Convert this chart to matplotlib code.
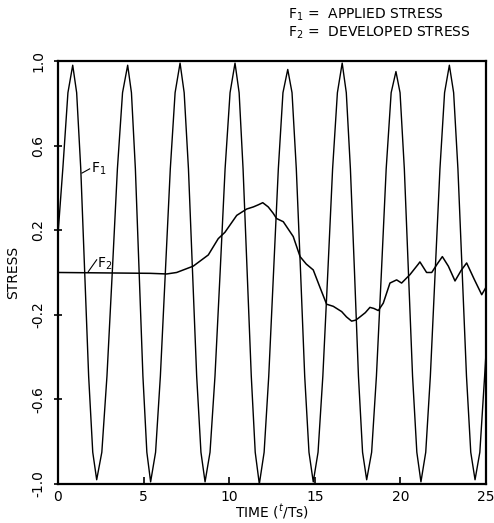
import numpy as np
import matplotlib.pyplot as plt

# ==== 1. 数据 ====
# F1: applied stress, points read along the oscillation
f1_t = [0.00, 0.29, 0.58, 0.86,
        1.09, 1.33, 1.56, 1.79, 2.03, 2.26,
        2.56, 2.86, 3.17, 3.47, 3.77, 4.07,
        4.29, 4.52, 4.74, 4.96, 5.19, 5.41,
        5.70, 5.98, 6.27, 6.56, 6.84, 7.13,
        7.37, 7.62, 7.86, 8.10, 8.35, 8.59,
        8.88, 9.17, 9.47, 9.76, 10.05, 10.34,
        10.58, 10.81, 11.05, 11.29, 11.52, 11.76,
        12.04, 12.31, 12.59, 12.87, 13.14, 13.42,
        13.67, 13.92, 14.17, 14.41, 14.66, 14.91,
        15.19, 15.47, 15.76, 16.04, 16.32, 16.60,
        16.84, 17.08, 17.32, 17.55, 17.79, 18.03,
        18.32, 18.60, 18.89, 19.17, 19.46, 19.74,
        19.98, 20.23, 20.47, 20.71, 20.96, 21.20,
        21.48, 21.75, 22.03, 22.31, 22.58, 22.86,
        23.11, 23.36, 23.61, 23.86, 24.11, 24.36,
        24.64, 24.92, 25.00]
f1_val = [0.18, 0.50, 0.85, 0.98,
          0.85, 0.49, 0.00, -0.49, -0.85, -0.98,
          -0.85, -0.49, 0.00, 0.49, 0.85, 0.98,
          0.85, 0.49, 0.00, -0.49, -0.85, -0.99,
          -0.85, -0.49, 0.00, 0.49, 0.85, 0.99,
          0.85, 0.49, 0.00, -0.49, -0.85, -0.99,
          -0.85, -0.49, 0.00, 0.49, 0.85, 0.99,
          0.85, 0.49, 0.00, -0.49, -0.85, -1.00,
          -0.85, -0.49, 0.00, 0.49, 0.85, 0.96,
          0.85, 0.49, 0.00, -0.49, -0.85, -0.99,
          -0.85, -0.49, 0.00, 0.49, 0.85, 0.99,
          0.85, 0.49, 0.00, -0.49, -0.85, -0.98,
          -0.85, -0.49, 0.00, 0.49, 0.85, 0.95,
          0.85, 0.49, 0.00, -0.49, -0.85, -0.99,
          -0.85, -0.49, 0.00, 0.49, 0.85, 0.98,
          0.85, 0.49, 0.00, -0.49, -0.85, -0.98,
          -0.85, -0.49, -0.38]

# F2: developed stress
f2_t = [0.0, 5.38, 6.35, 6.93, 7.90, 8.78, 9.36, 9.75, 10.44, 11.02,
        11.41, 11.70, 11.96, 12.28, 12.57, 12.77, 13.16, 13.74, 14.14, 14.50,
        14.91, 15.30, 15.69, 16.08, 16.57, 16.85, 17.15, 17.40, 17.64, 17.95,
        18.22, 18.45, 18.71, 19.00, 19.39, 19.78, 20.07, 20.56, 21.05, 21.14,
        21.53, 21.83, 22.15, 22.45, 22.80, 23.19, 23.55, 23.87, 24.30, 24.75,
        25.00]
f2_val = [0.0, -0.004, -0.007, 0.0, 0.03, 0.083, 0.16, 0.19, 0.27, 0.30,
          0.31, 0.32, 0.33, 0.31, 0.28, 0.255, 0.24, 0.17, 0.075, 0.04,
          0.012, -0.07, -0.15, -0.16, -0.185, -0.21, -0.23, -0.225, -0.21, -0.19,
          -0.165, -0.17, -0.18, -0.145, -0.05, -0.035, -0.05, -0.01, 0.04, 0.05,
          0.0, 0.0, 0.04, 0.075, 0.03, -0.04, 0.01, 0.045, -0.03, -0.105,
          -0.07]

x_ticks = [0, 5, 10, 15, 20, 25]
y_ticks = [1.0, 0.6, 0.2, -0.2, -0.6, -1.0]
y_tick_labels = ['1.0', '0.6', '0.2', '-0.2', '-0.6', '-1.0']

# ==== 2. 画图 ====
fig = plt.figure(figsize=(4.94, 5.23), dpi=100)
ax = fig.add_axes([0.1174, 0.0746, 0.8664, 0.8088])

ax.plot(f1_t, f1_val, color='black', lw=1.0)
ax.plot(f2_t, f2_val, color='black', lw=1.1)

ax.set_xlim(0, 25)
ax.set_ylim(-1.0, 1.0)

ax.set_xticks(x_ticks)
ax.set_yticks(y_ticks)
ax.set_yticklabels(y_tick_labels, rotation=90, va='center')
ax.tick_params(axis='x', direction='in', length=5, width=1.2, pad=4, labelsize=10)
ax.tick_params(axis='y', direction='inout', length=6, width=1.2, pad=6, labelsize=10)

for sp in ax.spines.values():
    sp.set_linewidth(1.6)

ax.set_xlabel('TIME ($^{t}$/Ts)', fontsize=10, labelpad=-1)
ax.set_ylabel('STRESS', fontsize=10, labelpad=8)

# curve labels with leader lines
ax.plot([1.40, 1.85], [0.47, 0.49], color='black', lw=0.8)
ax.text(1.9, 0.49, 'F$_1$', fontsize=10, va='center', ha='left')
ax.plot([1.77, 2.26], [0.004, 0.06], color='black', lw=0.8)
ax.text(2.3, 0.04, 'F$_2$', fontsize=10, va='center', ha='left')

# legend text top right
fig.text(0.583, 0.971, 'F$_1$ =  APPLIED STRESS', fontsize=10, va='center', ha='left')
fig.text(0.583, 0.937, 'F$_2$ =  DEVELOPED STRESS', fontsize=10, va='center', ha='left')

plt.savefig('out.png', dpi=100)
